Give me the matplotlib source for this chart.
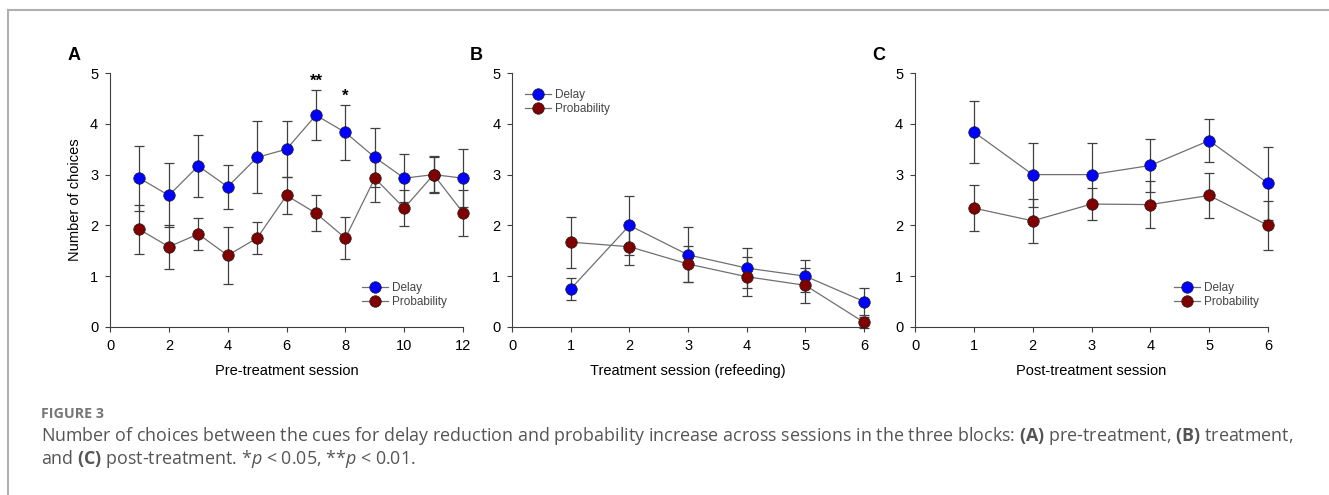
import matplotlib
matplotlib.use("Agg")
import matplotlib.pyplot as plt
from matplotlib.lines import Line2D

plt.rcParams["font.family"] = ["Liberation Sans", "DejaVu Sans"]
plt.rcParams["mathtext.fontset"] = "custom"
plt.rcParams["mathtext.rm"] = "Open Sans"
plt.rcParams["mathtext.it"] = "Open Sans:italic"
plt.rcParams["mathtext.bf"] = "Open Sans:bold"

# panel A: pre-treatment
pre_sessions = list(range(1, 13))
pre_delay = [2.93, 2.59, 3.17, 2.76, 3.34, 3.50, 4.17, 3.83, 3.34, 2.93, 3.00, 2.93]
pre_delay_se = [0.64, 0.63, 0.61, 0.43, 0.71, 0.55, 0.49, 0.54, 0.58, 0.47, 0.37, 0.57]
pre_prob = [1.92, 1.58, 1.83, 1.41, 1.75, 2.59, 2.24, 1.75, 2.93, 2.34, 3.00, 2.25]
pre_prob_se = [0.49, 0.43, 0.32, 0.56, 0.32, 0.36, 0.35, 0.42, 0.47, 0.36, 0.35, 0.45]

# panel B: treatment (refeeding)
trt_sessions = list(range(1, 7))
trt_delay = [0.75, 2.00, 1.42, 1.16, 1.00, 0.50]
trt_delay_se = [0.21, 0.58, 0.54, 0.40, 0.32, 0.27]
trt_prob = [1.67, 1.58, 1.24, 0.99, 0.82, 0.09]
trt_prob_se = [0.50, 0.36, 0.36, 0.38, 0.35, 0.10]

# panel C: post-treatment
post_sessions = list(range(1, 7))
post_delay = [3.84, 3.00, 3.00, 3.18, 3.67, 2.83]
post_delay_se = [0.61, 0.63, 0.62, 0.53, 0.43, 0.72]
post_prob = [2.34, 2.09, 2.42, 2.41, 2.59, 2.00]
post_prob_se = [0.46, 0.43, 0.32, 0.46, 0.44, 0.48]

stars_x = [7, 8]
stars_y = [4.83, 4.55]
stars_txt = ["**", "*"]

DELAY_C = "#0000ff"
PROB_C = "#800000"
LINE_C = "#707070"
ERR_C = "#404040"


def draw_panel(ax, x, delay, delay_se, prob, prob_se, xmax, xstep, xlabel, legend_loc, legend_anchor):
    for y, se, col, lab in [(delay, delay_se, DELAY_C, "Delay"), (prob, prob_se, PROB_C, "Probability")]:
        eb = ax.errorbar(x, y, yerr=se, fmt="none", ecolor=ERR_C, elinewidth=0.9, capsize=3.5, capthick=0.9, zorder=2)
        for art in eb.lines[1] + eb.lines[2]:
            art.set_clip_on(False)
        ax.plot(x, y, "-", color=LINE_C, lw=0.9, zorder=3, clip_on=False)
        ax.plot(x, y, "o", color=col, markeredgecolor="#202020", markeredgewidth=0.5, markersize=8.3, zorder=4,
                label=lab, clip_on=False)
    handles = [Line2D([0], [0], color=LINE_C, lw=0.9, marker="o", markersize=8.3, markerfacecolor=c,
                      markeredgecolor="#202020", markeredgewidth=0.5) for c in (DELAY_C, PROB_C)]
    ax.legend(handles, ["Delay", "Probability"], loc=legend_loc, bbox_to_anchor=legend_anchor, frameon=False,
              fontsize=8.5, handlelength=2.2, handletextpad=0.3, labelspacing=0.2, borderpad=0, labelcolor="#444444")
    ax.set_xlim(0, xmax)
    ax.set_ylim(0, 5)
    ax.set_xticks(range(0, xmax + 1, xstep))
    ax.set_yticks(range(0, 6))
    ax.set_xlabel(xlabel, fontsize=10.5, labelpad=8)
    for s in ["top", "right"]:
        ax.spines[s].set_visible(False)
    for s in ["left", "bottom"]:
        ax.spines[s].set_color("#404040")
        ax.spines[s].set_linewidth(0.8)
    ax.tick_params(direction="out", length=3.5, width=0.8, color="#404040", labelsize=10.5, pad=5)


fig = plt.figure(figsize=(13.29, 4.95), dpi=100)
axA = fig.add_axes([0.0828, 0.3394, 0.2656, 0.5131])
axB = fig.add_axes([0.3853, 0.3394, 0.2649, 0.5131])
axC = fig.add_axes([0.6885, 0.3394, 0.2656, 0.5131])

draw_panel(axA, pre_sessions, pre_delay, pre_delay_se, pre_prob, pre_prob_se, 12, 2,
           "Pre-treatment session", "lower right", (0.97, 0.05))
draw_panel(axB, trt_sessions, trt_delay, trt_delay_se, trt_prob, trt_prob_se, 6, 1,
           "Treatment session (refeeding)", "upper left", (0.02, 0.96))
draw_panel(axC, post_sessions, post_delay, post_delay_se, post_prob, post_prob_se, 6, 1,
           "Post-treatment session", "lower right", (0.99, 0.05))
axA.set_ylabel("Number of choices", fontsize=10.5, labelpad=6)

for sx, sy, st in zip(stars_x, stars_y, stars_txt):
    axA.text(sx, sy, st, ha="center", va="center", fontsize=12, fontweight="bold")

for ax, letter in [(axA, "A"), (axB, "B"), (axC, "C")]:
    ax.text(-0.12, 1.07, letter, transform=ax.transAxes, fontsize=13, fontweight="bold", ha="left", va="center")

# page frame (top and left rules)
fig.add_artist(Line2D([8 / 1329, 1], [1 - 10 / 495, 1 - 10 / 495], color="#b0b0b0", lw=1.5))
fig.add_artist(Line2D([8 / 1329, 8 / 1329], [0, 1 - 10 / 495], color="#b0b0b0", lw=1.5))

fig.text(41 / 1329, 1 - 414 / 495, "FIGURE 3", fontsize=10.3, color="#777777", fontweight="bold",
         family="Open Sans", va="center")
fig.text(41 / 1329, 1 - 436 / 495,
         r"Number of choices between the cues for delay reduction and probability increase across sessions "
         r"in the three blocks: $\mathbf{(A)}$ pre-treatment, $\mathbf{(B)}$ treatment,",
         fontsize=12.9, color="#555555", family="Open Sans", va="center")
fig.text(41 / 1329, 1 - 459 / 495,
         r"and $\mathbf{(C)}$ post-treatment. *$\mathit{p}$ < 0.05, **$\mathit{p}$ < 0.01.",
         fontsize=12.9, color="#555555", family="Open Sans", va="center")

fig.savefig("out.png", dpi=100)
